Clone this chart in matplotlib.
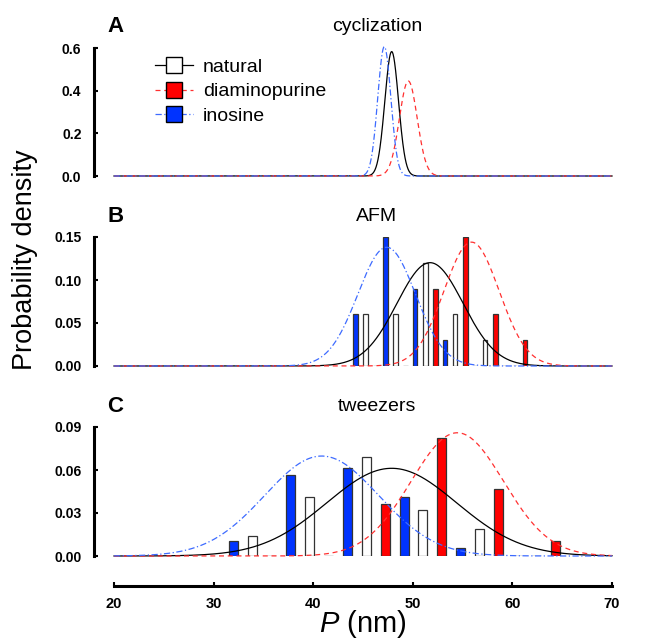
import numpy as np
import matplotlib
matplotlib.use("Agg")
import matplotlib.pyplot as plt
from matplotlib.lines import Line2D

plt.rcParams['font.family'] = ['Liberation Sans', 'DejaVu Sans']
plt.rcParams['mathtext.fontset'] = 'custom'
plt.rcParams['mathtext.it'] = 'Liberation Sans:italic'
plt.rcParams['mathtext.rm'] = 'Liberation Sans'

# ---------------- data ----------------
series = ["natural", "diaminopurine", "inosine"]

# Gaussian fits (mean, sd) per panel
cyc_mean = [47.88, 49.55, 47.14]
cyc_sd = [0.684, 0.896, 0.658]

afm_mean = [51.73, 55.9, 47.38]
afm_sd = [3.32, 2.77, 2.89]

twz_mean = [47.88, 54.47, 40.85]
twz_sd = [6.52, 4.64, 5.72]

# histograms
afm_bins = [45.25, 48.25, 51.25, 54.25, 57.25, 60.25]
afm_natural = [0.06, 0.06, 0.12, 0.06, 0.03, 0.0]
afm_diamino = [0.0, 0.0, 0.09, 0.15, 0.06, 0.03]
afm_inosine = [0.06, 0.15, 0.09, 0.03, 0.0, 0.0]

twz_bins = [33.92, 39.62, 45.32, 51.02, 56.72, 62.42]
twz_natural = [0.0142, 0.0414, 0.0689, 0.0323, 0.0186, 0.0]
twz_diamino = [0.0, 0.0, 0.0361, 0.0823, 0.0465, 0.0105]
twz_inosine = [0.0105, 0.0565, 0.0616, 0.0412, 0.0053, 0.0]

x_ticks = [20, 30, 40, 50, 60, 70]
cyc_yticks = [0.0, 0.2, 0.4, 0.6]
afm_yticks = [0.00, 0.05, 0.10, 0.15]
twz_yticks = [0.00, 0.03, 0.06, 0.09]

# ---------------- style ----------------
line_colors = ['black', '#ff3030', '#3d6bff']
line_styles = ['-', (0, (4, 3)), (0, (5, 2, 1, 2))]
bar_colors = ['white', '#ff0000', '#0033ff']

W, H = 648, 642
fig = plt.figure(figsize=(W / 100, H / 100), dpi=100)

def rect(top, bottom):
    return [114 / W, 1 - bottom / H, 498 / W, (bottom - top) / H]

axA = fig.add_axes(rect(48, 176))
axB = fig.add_axes(rect(237, 366))
axC = fig.add_axes(rect(427, 556))

xs = np.linspace(20, 70, 2001)

def gauss(x, m, s):
    return np.exp(-0.5 * ((x - m) / s) ** 2) / (s * np.sqrt(2 * np.pi))

def style_axis(ax, yticks, fmt, show_x=False):
    ax.set_xlim(20, 70)
    ax.set_ylim(yticks[0], yticks[-1])
    for s in ['top', 'right']:
        ax.spines[s].set_visible(False)
    ax.spines['left'].set_position(('outward', 14.4))
    ax.spines['left'].set_linewidth(2.2)
    ax.spines['left'].set_bounds(yticks[0], yticks[-1])
    ax.set_yticks(yticks)
    ax.set_yticklabels([fmt % v for v in yticks], fontweight='bold', fontsize=10)
    ax.tick_params(axis='y', direction='in', length=3, width=1.5, pad=9)
    if show_x:
        ax.spines['bottom'].set_position(('outward', 21.6))
        ax.spines['bottom'].set_linewidth(2.2)
        ax.spines['bottom'].set_bounds(20, 70)
        ax.set_xticks(x_ticks)
        ax.set_xticklabels([str(v) for v in x_ticks], fontweight='bold', fontsize=10.5)
        ax.tick_params(axis='x', direction='in', length=3, width=1.5, pad=8)
    else:
        ax.spines['bottom'].set_visible(False)
        ax.set_xticks([])
    ax.patch.set_alpha(0)

def draw_curves(ax, means, sds):
    for i in range(3):
        ax.plot(xs, gauss(xs, means[i], sds[i]), color=line_colors[i],
                ls=line_styles[i], lw=0.9, zorder=3, clip_on=False)

def draw_bars(ax, bins, vals_list, offset, width):
    offs = [0.0, offset, -offset]
    for i, vals in enumerate(vals_list):
        pos = [b + offs[i] for b in bins]
        ax.bar(pos, vals, width=width, color=bar_colors[i], edgecolor='#333333',
               linewidth=0.9, zorder=2)

# Panel A
draw_curves(axA, cyc_mean, cyc_sd)
style_axis(axA, cyc_yticks, '%.1f')

# Panel B
draw_bars(axB, afm_bins, [afm_natural, afm_diamino, afm_inosine], 1.02, 0.47)
draw_curves(axB, afm_mean, afm_sd)
style_axis(axB, afm_yticks, '%.2f')

# Panel C
draw_bars(axC, twz_bins, [twz_natural, twz_diamino, twz_inosine], 1.9, 0.9)
draw_curves(axC, twz_mean, twz_sd)
style_axis(axC, twz_yticks, '%.2f', show_x=True)

# titles and panel letters
for ax, title, letter, ty in [(axA, 'cyclization', 'A', 26.7),
                              (axB, 'AFM', 'B', 216.7),
                              (axC, 'tweezers', 'C', 406.7)]:
    fig.text(377 / W, 1 - ty / H, title, ha='center', va='center', fontsize=14)
    fig.text(107 / W, 1 - ty / H, letter, ha='left', va='center', fontsize=16,
             fontweight='bold')

# legend
handles = [Line2D([], [], color=line_colors[i], ls=line_styles[i], lw=0.9,
                  marker='s', markersize=11, markerfacecolor=bar_colors[i],
                  markeredgecolor='black', markeredgewidth=1.0)
           for i in range(3)]
fig.legend(handles, series, loc='upper left', bbox_to_anchor=(155 / W, 1 - 58 / H),
           frameon=False, borderpad=0, borderaxespad=0, handlelength=1.95,
           handletextpad=0.5, labelspacing=0.37, fontsize=14, numpoints=1)

# axis labels
fig.text(25 / W, 1 - 260 / H, 'Probability density', rotation=90, ha='center',
         va='center', fontsize=19.5)
fig.text(363 / W, 1 - 624 / H, r'$P$ (nm)', ha='center', va='center', fontsize=21)

fig.savefig('out.png', dpi=100)
